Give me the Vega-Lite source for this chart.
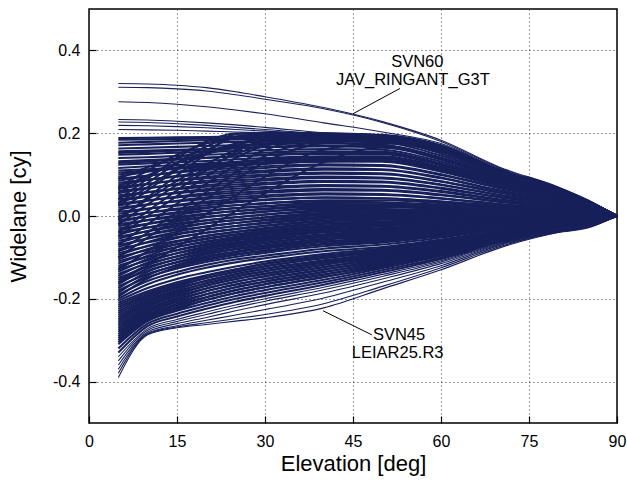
{
"$schema": "https://vega.github.io/schema/vega-lite/v6.json",
"width": 528, "height": 414,
"autosize": {"type": "none"},
"padding": {"left": 89, "top": 9, "right": 10, "bottom": 63},
"config": {
  "view": {"stroke": "#000", "strokeWidth": 1.5},
  "font": "Liberation Sans",
  "axis": {"domain": false, "labelFlush": false, "labelOverlap": false, "labelFont": "Liberation Sans", "titleFont": "Liberation Sans", "labelFontSize": 16, "titleFontSize": 22, "titleFontWeight": "normal", "labelColor": "#000", "titleColor": "#000", "tickColor": "#000", "tickSize": -7, "tickWidth": 1.2, "gridColor": "#333", "gridDash": [1, 3], "gridWidth": 1, "gridOpacity": 1}
},
"datasets": {
"lead": [{"e":53.0,"v":0.308,"e2":45.0,"v2":0.247},{"e":39.9,"v":-0.229,"e2":48.2,"v2":-0.287}],
"ann": [{"t":"SVN60","e":51.5,"v":0.373},{"t":"JAV_RINGANT_G3T","e":42.1,"v":0.329},{"t":"SVN45","e":48.4,"v":-0.287},{"t":"LEIAR25.R3","e":44.8,"v":-0.331}],
"thin": [
{"s":1,"e":5,"v":0.320},{"s":1,"e":10,"v":0.319},{"s":1,"e":15,"v":0.316},{"s":1,"e":20,"v":0.310},{"s":1,"e":25,"v":0.300},{"s":1,"e":30,"v":0.288},{"s":1,"e":40,"v":0.262},{"s":1,"e":50,"v":0.228},{"s":1,"e":60,"v":0.183},{"s":1,"e":70,"v":0.118},{"s":1,"e":80,"v":0.070},{"s":1,"e":85,"v":0.039},{"s":1,"e":90,"v":0},
{"s":2,"e":5,"v":0.311},{"s":2,"e":10,"v":0.310},{"s":2,"e":15,"v":0.307},{"s":2,"e":20,"v":0.302},{"s":2,"e":25,"v":0.293},{"s":2,"e":30,"v":0.282},{"s":2,"e":40,"v":0.259},{"s":2,"e":50,"v":0.226},{"s":2,"e":60,"v":0.180},{"s":2,"e":70,"v":0.116},{"s":2,"e":80,"v":0.069},{"s":2,"e":85,"v":0.038},{"s":2,"e":90,"v":0},
{"s":3,"e":5,"v":0.276},{"s":3,"e":10,"v":0.274},{"s":3,"e":15,"v":0.270},{"s":3,"e":20,"v":0.264},{"s":3,"e":25,"v":0.256},{"s":3,"e":30,"v":0.247},{"s":3,"e":40,"v":0.225},{"s":3,"e":50,"v":0.203},{"s":3,"e":60,"v":0.175},{"s":3,"e":70,"v":0.114},{"s":3,"e":80,"v":0.068},{"s":3,"e":85,"v":0.038},{"s":3,"e":90,"v":0},
{"s":4,"e":5,"v":0.233},{"s":4,"e":10,"v":0.232},{"s":4,"e":15,"v":0.229},{"s":4,"e":20,"v":0.225},{"s":4,"e":25,"v":0.220},{"s":4,"e":30,"v":0.214},{"s":4,"e":40,"v":0.201},{"s":4,"e":50,"v":0.196},{"s":4,"e":60,"v":0.172},{"s":4,"e":70,"v":0.112},{"s":4,"e":80,"v":0.067},{"s":4,"e":85,"v":0.037},{"s":4,"e":90,"v":0},
{"s":5,"e":5,"v":0.227},{"s":5,"e":10,"v":0.226},{"s":5,"e":15,"v":0.223},{"s":5,"e":20,"v":0.219},{"s":5,"e":25,"v":0.214},{"s":5,"e":30,"v":0.209},{"s":5,"e":40,"v":0.199},{"s":5,"e":50,"v":0.194},{"s":5,"e":60,"v":0.170},{"s":5,"e":70,"v":0.111},{"s":5,"e":80,"v":0.066},{"s":5,"e":85,"v":0.037},{"s":5,"e":90,"v":0},
{"s":6,"e":5,"v":0.219},{"s":6,"e":10,"v":0.218},{"s":6,"e":15,"v":0.216},{"s":6,"e":20,"v":0.213},{"s":6,"e":25,"v":0.209},{"s":6,"e":30,"v":0.205},{"s":6,"e":40,"v":0.198},{"s":6,"e":50,"v":0.193},{"s":6,"e":60,"v":0.168},{"s":6,"e":70,"v":0.110},{"s":6,"e":80,"v":0.066},{"s":6,"e":85,"v":0.036},{"s":6,"e":90,"v":0},
{"s":7,"e":5,"v":0.209},{"s":7,"e":10,"v":0.208},{"s":7,"e":15,"v":0.207},{"s":7,"e":20,"v":0.205},{"s":7,"e":25,"v":0.203},{"s":7,"e":30,"v":0.201},{"s":7,"e":40,"v":0.197},{"s":7,"e":50,"v":0.192},{"s":7,"e":60,"v":0.166},{"s":7,"e":70,"v":0.109},{"s":7,"e":80,"v":0.065},{"s":7,"e":85,"v":0.036},{"s":7,"e":90,"v":0},
{"s":62,"e":5,"v":-0.390},{"s":62,"e":10,"v":-0.287},{"s":62,"e":15,"v":-0.270},{"s":62,"e":20,"v":-0.262},{"s":62,"e":25,"v":-0.254},{"s":62,"e":30,"v":-0.246},{"s":62,"e":40,"v":-0.222},{"s":62,"e":50,"v":-0.176},{"s":62,"e":60,"v":-0.130},{"s":62,"e":70,"v":-0.077},{"s":62,"e":80,"v":-0.040},{"s":62,"e":85,"v":-0.029},{"s":62,"e":90,"v":0},
{"s":63,"e":5,"v":-0.380},{"s":63,"e":10,"v":-0.285},{"s":63,"e":15,"v":-0.268},{"s":63,"e":20,"v":-0.258},{"s":63,"e":25,"v":-0.248},{"s":63,"e":30,"v":-0.238},{"s":63,"e":40,"v":-0.212},{"s":63,"e":50,"v":-0.170},{"s":63,"e":60,"v":-0.125},{"s":63,"e":70,"v":-0.074},{"s":63,"e":80,"v":-0.039},{"s":63,"e":85,"v":-0.028},{"s":63,"e":90,"v":0},
{"s":64,"e":5,"v":-0.370},{"s":64,"e":10,"v":-0.283},{"s":64,"e":15,"v":-0.265},{"s":64,"e":20,"v":-0.252},{"s":64,"e":25,"v":-0.239},{"s":64,"e":30,"v":-0.226},{"s":64,"e":40,"v":-0.198},{"s":64,"e":50,"v":-0.160},{"s":64,"e":60,"v":-0.120},{"s":64,"e":70,"v":-0.071},{"s":64,"e":80,"v":-0.038},{"s":64,"e":85,"v":-0.027},{"s":64,"e":90,"v":0},
{"s":65,"e":5,"v":-0.360},{"s":65,"e":10,"v":-0.280},{"s":65,"e":15,"v":-0.260},{"s":65,"e":20,"v":-0.245},{"s":65,"e":25,"v":-0.229},{"s":65,"e":30,"v":-0.214},{"s":65,"e":40,"v":-0.186},{"s":65,"e":50,"v":-0.152},{"s":65,"e":60,"v":-0.115},{"s":65,"e":70,"v":-0.069},{"s":65,"e":80,"v":-0.037},{"s":65,"e":85,"v":-0.026},{"s":65,"e":90,"v":0},
{"s":66,"e":5,"v":-0.350},{"s":66,"e":10,"v":-0.276},{"s":66,"e":15,"v":-0.255},{"s":66,"e":20,"v":-0.238},{"s":66,"e":25,"v":-0.221},{"s":66,"e":30,"v":-0.206},{"s":66,"e":40,"v":-0.178},{"s":66,"e":50,"v":-0.146},{"s":66,"e":60,"v":-0.111},{"s":66,"e":70,"v":-0.067},{"s":66,"e":80,"v":-0.036},{"s":66,"e":85,"v":-0.025},{"s":66,"e":90,"v":0},
{"s":67,"e":5,"v":-0.340},{"s":67,"e":10,"v":-0.272},{"s":67,"e":15,"v":-0.250},{"s":67,"e":20,"v":-0.232},{"s":67,"e":25,"v":-0.215},{"s":67,"e":30,"v":-0.200},{"s":67,"e":40,"v":-0.172},{"s":67,"e":50,"v":-0.141},{"s":67,"e":60,"v":-0.108},{"s":67,"e":70,"v":-0.065},{"s":67,"e":80,"v":-0.035},{"s":67,"e":85,"v":-0.025},{"s":67,"e":90,"v":0}
],
"bulk": [
{"s":68,"e":5,"v":-0.330},{"s":68,"e":10,"v":-0.266},{"s":68,"e":15,"v":-0.243},{"s":68,"e":20,"v":-0.224},{"s":68,"e":25,"v":-0.207},{"s":68,"e":30,"v":-0.193},{"s":68,"e":40,"v":-0.166},{"s":68,"e":50,"v":-0.136},{"s":68,"e":60,"v":-0.104},{"s":68,"e":70,"v":-0.063},{"s":68,"e":80,"v":-0.034},{"s":68,"e":85,"v":-0.024},{"s":68,"e":90,"v":0},
{"s":69,"e":5,"v":-0.320},{"s":69,"e":10,"v":-0.260},{"s":69,"e":15,"v":-0.236},{"s":69,"e":20,"v":-0.217},{"s":69,"e":25,"v":-0.200},{"s":69,"e":30,"v":-0.186},{"s":69,"e":40,"v":-0.160},{"s":69,"e":50,"v":-0.131},{"s":69,"e":60,"v":-0.100},{"s":69,"e":70,"v":-0.061},{"s":69,"e":80,"v":-0.033},{"s":69,"e":85,"v":-0.023},{"s":69,"e":90,"v":0},
{"s":70,"e":5,"v":-0.310},{"s":70,"e":10,"v":-0.254},{"s":70,"e":15,"v":-0.229},{"s":70,"e":20,"v":-0.210},{"s":70,"e":25,"v":-0.193},{"s":70,"e":30,"v":-0.179},{"s":70,"e":40,"v":-0.154},{"s":70,"e":50,"v":-0.126},{"s":70,"e":60,"v":-0.096},{"s":70,"e":70,"v":-0.059},{"s":70,"e":80,"v":-0.032},{"s":70,"e":85,"v":-0.022},{"s":70,"e":90,"v":0},
{"s":71,"e":5,"v":-0.300},{"s":71,"e":10,"v":-0.248},{"s":71,"e":15,"v":-0.222},{"s":71,"e":20,"v":-0.203},{"s":71,"e":25,"v":-0.186},{"s":71,"e":30,"v":-0.172},{"s":71,"e":40,"v":-0.148},{"s":71,"e":50,"v":-0.121},{"s":71,"e":60,"v":-0.092},{"s":71,"e":70,"v":-0.057},{"s":71,"e":80,"v":-0.031},{"s":71,"e":85,"v":-0.021},{"s":71,"e":90,"v":0},
{"s":72,"e":5,"v":-0.290},{"s":72,"e":10,"v":-0.241},{"s":72,"e":15,"v":-0.215},{"s":72,"e":20,"v":-0.196},{"s":72,"e":25,"v":-0.179},{"s":72,"e":30,"v":-0.165},{"s":72,"e":40,"v":-0.142},{"s":72,"e":50,"v":-0.116},{"s":72,"e":60,"v":-0.088},{"s":72,"e":70,"v":-0.054},{"s":72,"e":80,"v":-0.030},{"s":72,"e":85,"v":-0.020},{"s":72,"e":90,"v":0},
{"s":73,"e":5,"v":-0.280},{"s":73,"e":10,"v":-0.234},{"s":73,"e":15,"v":-0.208},{"s":73,"e":20,"v":-0.189},{"s":73,"e":25,"v":-0.172},{"s":73,"e":30,"v":-0.159},{"s":73,"e":40,"v":-0.136},{"s":73,"e":50,"v":-0.111},{"s":73,"e":60,"v":-0.084},{"s":73,"e":70,"v":-0.052},{"s":73,"e":80,"v":-0.029},{"s":73,"e":85,"v":-0.019},{"s":73,"e":90,"v":0},
{"s":74,"e":5,"v":-0.270},{"s":74,"e":10,"v":-0.227},{"s":74,"e":15,"v":-0.201},{"s":74,"e":20,"v":-0.182},{"s":74,"e":25,"v":-0.166},{"s":74,"e":30,"v":-0.152},{"s":74,"e":40,"v":-0.130},{"s":74,"e":50,"v":-0.106},{"s":74,"e":60,"v":-0.080},{"s":74,"e":70,"v":-0.050},{"s":74,"e":80,"v":-0.028},{"s":74,"e":85,"v":-0.018},{"s":74,"e":90,"v":0},
{"s":75,"e":5,"v":-0.260},{"s":75,"e":10,"v":-0.220},{"s":75,"e":15,"v":-0.194},{"s":75,"e":20,"v":-0.175},{"s":75,"e":25,"v":-0.159},{"s":75,"e":30,"v":-0.146},{"s":75,"e":40,"v":-0.124},{"s":75,"e":50,"v":-0.101},{"s":75,"e":60,"v":-0.077},{"s":75,"e":70,"v":-0.048},{"s":75,"e":80,"v":-0.027},{"s":75,"e":85,"v":-0.017},{"s":75,"e":90,"v":0},
{"s":76,"e":5,"v":-0.250},{"s":76,"e":10,"v":-0.212},{"s":76,"e":15,"v":-0.187},{"s":76,"e":20,"v":-0.169},{"s":76,"e":25,"v":-0.153},{"s":76,"e":30,"v":-0.140},{"s":76,"e":40,"v":-0.118},{"s":76,"e":50,"v":-0.097},{"s":76,"e":60,"v":-0.073},{"s":76,"e":70,"v":-0.046},{"s":76,"e":80,"v":-0.026},{"s":76,"e":85,"v":-0.016},{"s":76,"e":90,"v":0},
{"s":77,"e":5,"v":-0.240},{"s":77,"e":10,"v":-0.205},{"s":77,"e":15,"v":-0.181},{"s":77,"e":20,"v":-0.163},{"s":77,"e":25,"v":-0.147},{"s":77,"e":30,"v":-0.134},{"s":77,"e":40,"v":-0.113},{"s":77,"e":50,"v":-0.093},{"s":77,"e":60,"v":-0.070},{"s":77,"e":70,"v":-0.044},{"s":77,"e":80,"v":-0.025},{"s":77,"e":85,"v":-0.016},{"s":77,"e":90,"v":0},
{"s":78,"e":5,"v":-0.230},{"s":78,"e":10,"v":-0.198},{"s":78,"e":15,"v":-0.174},{"s":78,"e":20,"v":-0.157},{"s":78,"e":25,"v":-0.141},{"s":78,"e":30,"v":-0.128},{"s":78,"e":40,"v":-0.108},{"s":78,"e":50,"v":-0.089},{"s":78,"e":60,"v":-0.067},{"s":78,"e":70,"v":-0.042},{"s":78,"e":80,"v":-0.024},{"s":78,"e":85,"v":-0.015},{"s":78,"e":90,"v":0},
{"s":79,"e":5,"v":-0.220},{"s":79,"e":10,"v":-0.190},{"s":79,"e":15,"v":-0.167},{"s":79,"e":20,"v":-0.150},{"s":79,"e":25,"v":-0.135},{"s":79,"e":30,"v":-0.122},{"s":79,"e":40,"v":-0.102},{"s":79,"e":50,"v":-0.085},{"s":79,"e":60,"v":-0.064},{"s":79,"e":70,"v":-0.040},{"s":79,"e":80,"v":-0.023},{"s":79,"e":85,"v":-0.014},{"s":79,"e":90,"v":0},
{"s":80,"e":5,"v":-0.210},{"s":80,"e":10,"v":-0.182},{"s":80,"e":15,"v":-0.160},{"s":80,"e":20,"v":-0.143},{"s":80,"e":25,"v":-0.129},{"s":80,"e":30,"v":-0.116},{"s":80,"e":40,"v":-0.097},{"s":80,"e":50,"v":-0.081},{"s":80,"e":60,"v":-0.061},{"s":80,"e":70,"v":-0.038},{"s":80,"e":80,"v":-0.022},{"s":80,"e":85,"v":-0.014},{"s":80,"e":90,"v":0},
{"s":122,"e":5,"v":-0.215},{"s":122,"e":10,"v":-0.186},{"s":122,"e":15,"v":-0.164},{"s":122,"e":20,"v":-0.145},{"s":122,"e":25,"v":-0.129},{"s":122,"e":30,"v":-0.115},{"s":122,"e":40,"v":-0.096},{"s":122,"e":50,"v":-0.083},{"s":122,"e":60,"v":-0.063},{"s":122,"e":70,"v":-0.039},{"s":122,"e":80,"v":-0.023},{"s":122,"e":85,"v":-0.014},{"s":122,"e":90,"v":0},
{"s":123,"e":5,"v":-0.225},{"s":123,"e":10,"v":-0.194},{"s":123,"e":15,"v":-0.171},{"s":123,"e":20,"v":-0.150},{"s":123,"e":25,"v":-0.134},{"s":123,"e":30,"v":-0.121},{"s":123,"e":40,"v":-0.101},{"s":123,"e":50,"v":-0.087},{"s":123,"e":60,"v":-0.066},{"s":123,"e":70,"v":-0.041},{"s":123,"e":80,"v":-0.024},{"s":123,"e":85,"v":-0.015},{"s":123,"e":90,"v":0},
{"s":124,"e":5,"v":-0.235},{"s":124,"e":10,"v":-0.202},{"s":124,"e":15,"v":-0.178},{"s":124,"e":20,"v":-0.156},{"s":124,"e":25,"v":-0.140},{"s":124,"e":30,"v":-0.127},{"s":124,"e":40,"v":-0.107},{"s":124,"e":50,"v":-0.091},{"s":124,"e":60,"v":-0.069},{"s":124,"e":70,"v":-0.043},{"s":124,"e":80,"v":-0.025},{"s":124,"e":85,"v":-0.016},{"s":124,"e":90,"v":0},
{"s":125,"e":5,"v":-0.245},{"s":125,"e":10,"v":-0.209},{"s":125,"e":15,"v":-0.184},{"s":125,"e":20,"v":-0.162},{"s":125,"e":25,"v":-0.146},{"s":125,"e":30,"v":-0.133},{"s":125,"e":40,"v":-0.112},{"s":125,"e":50,"v":-0.095},{"s":125,"e":60,"v":-0.072},{"s":125,"e":70,"v":-0.045},{"s":125,"e":80,"v":-0.026},{"s":125,"e":85,"v":-0.016},{"s":125,"e":90,"v":0},
{"s":126,"e":5,"v":-0.255},{"s":126,"e":10,"v":-0.216},{"s":126,"e":15,"v":-0.191},{"s":126,"e":20,"v":-0.168},{"s":126,"e":25,"v":-0.152},{"s":126,"e":30,"v":-0.139},{"s":126,"e":40,"v":-0.117},{"s":126,"e":50,"v":-0.099},{"s":126,"e":60,"v":-0.075},{"s":126,"e":70,"v":-0.047},{"s":126,"e":80,"v":-0.027},{"s":126,"e":85,"v":-0.017},{"s":126,"e":90,"v":0},
{"s":127,"e":5,"v":-0.265},{"s":127,"e":10,"v":-0.224},{"s":127,"e":15,"v":-0.198},{"s":127,"e":20,"v":-0.175},{"s":127,"e":25,"v":-0.159},{"s":127,"e":30,"v":-0.145},{"s":127,"e":40,"v":-0.123},{"s":127,"e":50,"v":-0.104},{"s":127,"e":60,"v":-0.079},{"s":127,"e":70,"v":-0.049},{"s":127,"e":80,"v":-0.028},{"s":127,"e":85,"v":-0.018},{"s":127,"e":90,"v":0},
{"s":128,"e":5,"v":-0.275},{"s":128,"e":10,"v":-0.231},{"s":128,"e":15,"v":-0.205},{"s":128,"e":20,"v":-0.182},{"s":128,"e":25,"v":-0.165},{"s":128,"e":30,"v":-0.152},{"s":128,"e":40,"v":-0.129},{"s":128,"e":50,"v":-0.109},{"s":128,"e":60,"v":-0.082},{"s":128,"e":70,"v":-0.051},{"s":128,"e":80,"v":-0.029},{"s":128,"e":85,"v":-0.019},{"s":128,"e":90,"v":0},
{"s":129,"e":5,"v":-0.285},{"s":129,"e":10,"v":-0.238},{"s":129,"e":15,"v":-0.212},{"s":129,"e":20,"v":-0.189},{"s":129,"e":25,"v":-0.172},{"s":129,"e":30,"v":-0.158},{"s":129,"e":40,"v":-0.135},{"s":129,"e":50,"v":-0.114},{"s":129,"e":60,"v":-0.086},{"s":129,"e":70,"v":-0.053},{"s":129,"e":80,"v":-0.030},{"s":129,"e":85,"v":-0.020},{"s":129,"e":90,"v":0},
{"s":130,"e":5,"v":-0.295},{"s":130,"e":10,"v":-0.245},{"s":130,"e":15,"v":-0.219},{"s":130,"e":20,"v":-0.196},{"s":130,"e":25,"v":-0.179},{"s":130,"e":30,"v":-0.165},{"s":130,"e":40,"v":-0.141},{"s":130,"e":50,"v":-0.119},{"s":130,"e":60,"v":-0.090},{"s":130,"e":70,"v":-0.056},{"s":130,"e":80,"v":-0.031},{"s":130,"e":85,"v":-0.021},{"s":130,"e":90,"v":0},
{"s":131,"e":5,"v":-0.305},{"s":131,"e":10,"v":-0.251},{"s":131,"e":15,"v":-0.226},{"s":131,"e":20,"v":-0.203},{"s":131,"e":25,"v":-0.186},{"s":131,"e":30,"v":-0.172},{"s":131,"e":40,"v":-0.147},{"s":131,"e":50,"v":-0.124},{"s":131,"e":60,"v":-0.094},{"s":131,"e":70,"v":-0.058},{"s":131,"e":80,"v":-0.032},{"s":131,"e":85,"v":-0.022},{"s":131,"e":90,"v":0},
{"s":8,"e":5,"v":0.188},{"s":8,"e":10,"v":0.189},{"s":8,"e":15,"v":0.190},{"s":8,"e":20,"v":0.191},{"s":8,"e":25,"v":0.192},{"s":8,"e":30,"v":0.193},{"s":8,"e":40,"v":0.194},{"s":8,"e":50,"v":0.190},{"s":8,"e":60,"v":0.163},{"s":8,"e":70,"v":0.107},{"s":8,"e":80,"v":0.064},{"s":8,"e":85,"v":0.035},{"s":8,"e":90,"v":0},
{"s":9,"e":5,"v":0.184},{"s":9,"e":10,"v":0.185},{"s":9,"e":15,"v":0.186},{"s":9,"e":20,"v":0.187},{"s":9,"e":25,"v":0.188},{"s":9,"e":30,"v":0.189},{"s":9,"e":40,"v":0.190},{"s":9,"e":50,"v":0.186},{"s":9,"e":60,"v":0.160},{"s":9,"e":70,"v":0.106},{"s":9,"e":80,"v":0.063},{"s":9,"e":85,"v":0.035},{"s":9,"e":90,"v":0},
{"s":10,"e":5,"v":0.171},{"s":10,"e":10,"v":0.173},{"s":10,"e":15,"v":0.175},{"s":10,"e":20,"v":0.177},{"s":10,"e":25,"v":0.179},{"s":10,"e":30,"v":0.180},{"s":10,"e":40,"v":0.181},{"s":10,"e":50,"v":0.178},{"s":10,"e":60,"v":0.146},{"s":10,"e":70,"v":0.098},{"s":10,"e":80,"v":0.059},{"s":10,"e":85,"v":0.032},{"s":10,"e":90,"v":0},
{"s":11,"e":5,"v":0.163},{"s":11,"e":10,"v":0.165},{"s":11,"e":15,"v":0.167},{"s":11,"e":20,"v":0.169},{"s":11,"e":25,"v":0.171},{"s":11,"e":30,"v":0.173},{"s":11,"e":40,"v":0.175},{"s":11,"e":50,"v":0.172},{"s":11,"e":60,"v":0.141},{"s":11,"e":70,"v":0.095},{"s":11,"e":80,"v":0.057},{"s":11,"e":85,"v":0.031},{"s":11,"e":90,"v":0},
{"s":12,"e":5,"v":0.156},{"s":12,"e":10,"v":0.158},{"s":12,"e":15,"v":0.160},{"s":12,"e":20,"v":0.162},{"s":12,"e":25,"v":0.164},{"s":12,"e":30,"v":0.166},{"s":12,"e":40,"v":0.168},{"s":12,"e":50,"v":0.166},{"s":12,"e":60,"v":0.136},{"s":12,"e":70,"v":0.091},{"s":12,"e":80,"v":0.055},{"s":12,"e":85,"v":0.030},{"s":12,"e":90,"v":0},
{"s":13,"e":5,"v":0.148},{"s":13,"e":10,"v":0.150},{"s":13,"e":15,"v":0.153},{"s":13,"e":20,"v":0.155},{"s":13,"e":25,"v":0.157},{"s":13,"e":30,"v":0.159},{"s":13,"e":40,"v":0.162},{"s":13,"e":50,"v":0.160},{"s":13,"e":60,"v":0.131},{"s":13,"e":70,"v":0.088},{"s":13,"e":80,"v":0.053},{"s":13,"e":85,"v":0.029},{"s":13,"e":90,"v":0},
{"s":14,"e":5,"v":0.140},{"s":14,"e":10,"v":0.142},{"s":14,"e":15,"v":0.145},{"s":14,"e":20,"v":0.148},{"s":14,"e":25,"v":0.150},{"s":14,"e":30,"v":0.153},{"s":14,"e":40,"v":0.156},{"s":14,"e":50,"v":0.155},{"s":14,"e":60,"v":0.127},{"s":14,"e":70,"v":0.085},{"s":14,"e":80,"v":0.051},{"s":14,"e":85,"v":0.028},{"s":14,"e":90,"v":0},
{"s":15,"e":5,"v":0.132},{"s":15,"e":10,"v":0.135},{"s":15,"e":15,"v":0.138},{"s":15,"e":20,"v":0.141},{"s":15,"e":25,"v":0.144},{"s":15,"e":30,"v":0.147},{"s":15,"e":40,"v":0.150},{"s":15,"e":50,"v":0.149},{"s":15,"e":60,"v":0.122},{"s":15,"e":70,"v":0.082},{"s":15,"e":80,"v":0.049},{"s":15,"e":85,"v":0.027},{"s":15,"e":90,"v":0},
{"s":16,"e":5,"v":0.124},{"s":16,"e":10,"v":0.127},{"s":16,"e":15,"v":0.130},{"s":16,"e":20,"v":0.133},{"s":16,"e":25,"v":0.137},{"s":16,"e":30,"v":0.140},{"s":16,"e":40,"v":0.144},{"s":16,"e":50,"v":0.144},{"s":16,"e":60,"v":0.118},{"s":16,"e":70,"v":0.079},{"s":16,"e":80,"v":0.048},{"s":16,"e":85,"v":0.026},{"s":16,"e":90,"v":0},
{"s":17,"e":5,"v":0.116},{"s":17,"e":10,"v":0.120},{"s":17,"e":15,"v":0.123},{"s":17,"e":20,"v":0.127},{"s":17,"e":25,"v":0.130},{"s":17,"e":30,"v":0.134},{"s":17,"e":40,"v":0.138},{"s":17,"e":50,"v":0.138},{"s":17,"e":60,"v":0.113},{"s":17,"e":70,"v":0.076},{"s":17,"e":80,"v":0.046},{"s":17,"e":85,"v":0.025},{"s":17,"e":90,"v":0},
{"s":18,"e":5,"v":0.110},{"s":18,"e":10,"v":0.113},{"s":18,"e":15,"v":0.117},{"s":18,"e":20,"v":0.120},{"s":18,"e":25,"v":0.124},{"s":18,"e":30,"v":0.128},{"s":18,"e":40,"v":0.132},{"s":18,"e":50,"v":0.133},{"s":18,"e":60,"v":0.109},{"s":18,"e":70,"v":0.073},{"s":18,"e":80,"v":0.044},{"s":18,"e":85,"v":0.024},{"s":18,"e":90,"v":0},
{"s":19,"e":5,"v":-0.010},{"s":19,"e":10,"v":0.045},{"s":19,"e":15,"v":0.098},{"s":19,"e":20,"v":0.150},{"s":19,"e":25,"v":0.198},{"s":19,"e":30,"v":0.201},{"s":19,"e":40,"v":0.200},{"s":19,"e":50,"v":0.196},{"s":19,"e":60,"v":0.170},{"s":19,"e":70,"v":0.111},{"s":19,"e":80,"v":0.066},{"s":19,"e":85,"v":0.037},{"s":19,"e":90,"v":0},
{"s":20,"e":5,"v":0.040},{"s":20,"e":10,"v":0.090},{"s":20,"e":15,"v":0.140},{"s":20,"e":20,"v":0.180},{"s":20,"e":25,"v":0.199},{"s":20,"e":30,"v":0.200},{"s":20,"e":40,"v":0.199},{"s":20,"e":50,"v":0.194},{"s":20,"e":60,"v":0.168},{"s":20,"e":70,"v":0.110},{"s":20,"e":80,"v":0.066},{"s":20,"e":85,"v":0.036},{"s":20,"e":90,"v":0},
{"s":21,"e":5,"v":0.010},{"s":21,"e":10,"v":0.062},{"s":21,"e":15,"v":0.112},{"s":21,"e":20,"v":0.158},{"s":21,"e":25,"v":0.190},{"s":21,"e":30,"v":0.196},{"s":21,"e":40,"v":0.197},{"s":21,"e":50,"v":0.192},{"s":21,"e":60,"v":0.166},{"s":21,"e":70,"v":0.109},{"s":21,"e":80,"v":0.065},{"s":21,"e":85,"v":0.036},{"s":21,"e":90,"v":0},
{"s":22,"e":5,"v":-0.040},{"s":22,"e":10,"v":0.012},{"s":22,"e":15,"v":0.062},{"s":22,"e":20,"v":0.110},{"s":22,"e":25,"v":0.155},{"s":22,"e":30,"v":0.182},{"s":22,"e":40,"v":0.192},{"s":22,"e":50,"v":0.189},{"s":22,"e":60,"v":0.164},{"s":22,"e":70,"v":0.108},{"s":22,"e":80,"v":0.065},{"s":22,"e":85,"v":0.036},{"s":22,"e":90,"v":0},
{"s":23,"e":5,"v":0.070},{"s":23,"e":10,"v":0.110},{"s":23,"e":15,"v":0.148},{"s":23,"e":20,"v":0.175},{"s":23,"e":25,"v":0.190},{"s":23,"e":30,"v":0.194},{"s":23,"e":40,"v":0.194},{"s":23,"e":50,"v":0.190},{"s":23,"e":60,"v":0.164},{"s":23,"e":70,"v":0.108},{"s":23,"e":80,"v":0.064},{"s":23,"e":85,"v":0.035},{"s":23,"e":90,"v":0},
{"s":24,"e":5,"v":-0.070},{"s":24,"e":10,"v":-0.020},{"s":24,"e":15,"v":0.030},{"s":24,"e":20,"v":0.078},{"s":24,"e":25,"v":0.122},{"s":24,"e":30,"v":0.160},{"s":24,"e":40,"v":0.186},{"s":24,"e":50,"v":0.186},{"s":24,"e":60,"v":0.162},{"s":24,"e":70,"v":0.107},{"s":24,"e":80,"v":0.064},{"s":24,"e":85,"v":0.035},{"s":24,"e":90,"v":0},
{"s":25,"e":5,"v":0.025},{"s":25,"e":10,"v":0.070},{"s":25,"e":15,"v":0.115},{"s":25,"e":20,"v":0.150},{"s":25,"e":25,"v":0.175},{"s":25,"e":30,"v":0.186},{"s":25,"e":40,"v":0.190},{"s":25,"e":50,"v":0.187},{"s":25,"e":60,"v":0.162},{"s":25,"e":70,"v":0.107},{"s":25,"e":80,"v":0.064},{"s":25,"e":85,"v":0.035},{"s":25,"e":90,"v":0},
{"s":26,"e":5,"v":-0.100},{"s":26,"e":10,"v":-0.052},{"s":26,"e":15,"v":-0.005},{"s":26,"e":20,"v":0.042},{"s":26,"e":25,"v":0.088},{"s":26,"e":30,"v":0.130},{"s":26,"e":40,"v":0.176},{"s":26,"e":50,"v":0.182},{"s":26,"e":60,"v":0.160},{"s":26,"e":70,"v":0.106},{"s":26,"e":80,"v":0.063},{"s":26,"e":85,"v":0.035},{"s":26,"e":90,"v":0},
{"s":27,"e":5,"v":0.055},{"s":27,"e":10,"v":0.095},{"s":27,"e":15,"v":0.128},{"s":27,"e":20,"v":0.155},{"s":27,"e":25,"v":0.172},{"s":27,"e":30,"v":0.182},{"s":27,"e":40,"v":0.187},{"s":27,"e":50,"v":0.184},{"s":27,"e":60,"v":0.160},{"s":27,"e":70,"v":0.106},{"s":27,"e":80,"v":0.063},{"s":27,"e":85,"v":0.035},{"s":27,"e":90,"v":0},
{"s":28,"e":5,"v":-0.020},{"s":28,"e":10,"v":0.028},{"s":28,"e":15,"v":0.075},{"s":28,"e":20,"v":0.115},{"s":28,"e":25,"v":0.150},{"s":28,"e":30,"v":0.172},{"s":28,"e":40,"v":0.183},{"s":28,"e":50,"v":0.181},{"s":28,"e":60,"v":0.158},{"s":28,"e":70,"v":0.105},{"s":28,"e":80,"v":0.063},{"s":28,"e":85,"v":0.034},{"s":28,"e":90,"v":0},
{"s":29,"e":5,"v":-0.130},{"s":29,"e":10,"v":-0.085},{"s":29,"e":15,"v":-0.040},{"s":29,"e":20,"v":0.005},{"s":29,"e":25,"v":0.050},{"s":29,"e":30,"v":0.095},{"s":29,"e":40,"v":0.160},{"s":29,"e":50,"v":0.176},{"s":29,"e":60,"v":0.156},{"s":29,"e":70,"v":0.104},{"s":29,"e":80,"v":0.062},{"s":29,"e":85,"v":0.034},{"s":29,"e":90,"v":0},
{"s":30,"e":5,"v":0.090},{"s":30,"e":10,"v":0.118},{"s":30,"e":15,"v":0.140},{"s":30,"e":20,"v":0.158},{"s":30,"e":25,"v":0.168},{"s":30,"e":30,"v":0.175},{"s":30,"e":40,"v":0.180},{"s":30,"e":50,"v":0.178},{"s":30,"e":60,"v":0.156},{"s":30,"e":70,"v":0.104},{"s":30,"e":80,"v":0.062},{"s":30,"e":85,"v":0.034},{"s":30,"e":90,"v":0},
{"s":31,"e":5,"v":0.100},{"s":31,"e":10,"v":0.108},{"s":31,"e":15,"v":0.115},{"s":31,"e":20,"v":0.121},{"s":31,"e":25,"v":0.126},{"s":31,"e":30,"v":0.130},{"s":31,"e":40,"v":0.135},{"s":31,"e":50,"v":0.133},{"s":31,"e":60,"v":0.109},{"s":31,"e":70,"v":0.073},{"s":31,"e":80,"v":0.044},{"s":31,"e":85,"v":0.024},{"s":31,"e":90,"v":0},
{"s":32,"e":5,"v":0.090},{"s":32,"e":10,"v":0.098},{"s":32,"e":15,"v":0.105},{"s":32,"e":20,"v":0.111},{"s":32,"e":25,"v":0.116},{"s":32,"e":30,"v":0.120},{"s":32,"e":40,"v":0.125},{"s":32,"e":50,"v":0.123},{"s":32,"e":60,"v":0.101},{"s":32,"e":70,"v":0.068},{"s":32,"e":80,"v":0.041},{"s":32,"e":85,"v":0.022},{"s":32,"e":90,"v":0},
{"s":33,"e":5,"v":0.080},{"s":33,"e":10,"v":0.088},{"s":33,"e":15,"v":0.095},{"s":33,"e":20,"v":0.101},{"s":33,"e":25,"v":0.106},{"s":33,"e":30,"v":0.110},{"s":33,"e":40,"v":0.115},{"s":33,"e":50,"v":0.113},{"s":33,"e":60,"v":0.093},{"s":33,"e":70,"v":0.062},{"s":33,"e":80,"v":0.037},{"s":33,"e":85,"v":0.020},{"s":33,"e":90,"v":0},
{"s":34,"e":5,"v":0.070},{"s":34,"e":10,"v":0.078},{"s":34,"e":15,"v":0.085},{"s":34,"e":20,"v":0.091},{"s":34,"e":25,"v":0.096},{"s":34,"e":30,"v":0.100},{"s":34,"e":40,"v":0.105},{"s":34,"e":50,"v":0.103},{"s":34,"e":60,"v":0.084},{"s":34,"e":70,"v":0.057},{"s":34,"e":80,"v":0.034},{"s":34,"e":85,"v":0.019},{"s":34,"e":90,"v":0},
{"s":35,"e":5,"v":0.060},{"s":35,"e":10,"v":0.068},{"s":35,"e":15,"v":0.075},{"s":35,"e":20,"v":0.081},{"s":35,"e":25,"v":0.086},{"s":35,"e":30,"v":0.090},{"s":35,"e":40,"v":0.095},{"s":35,"e":50,"v":0.093},{"s":35,"e":60,"v":0.076},{"s":35,"e":70,"v":0.051},{"s":35,"e":80,"v":0.031},{"s":35,"e":85,"v":0.017},{"s":35,"e":90,"v":0},
{"s":36,"e":5,"v":0.050},{"s":36,"e":10,"v":0.058},{"s":36,"e":15,"v":0.065},{"s":36,"e":20,"v":0.071},{"s":36,"e":25,"v":0.076},{"s":36,"e":30,"v":0.080},{"s":36,"e":40,"v":0.085},{"s":36,"e":50,"v":0.083},{"s":36,"e":60,"v":0.068},{"s":36,"e":70,"v":0.046},{"s":36,"e":80,"v":0.027},{"s":36,"e":85,"v":0.015},{"s":36,"e":90,"v":0},
{"s":37,"e":5,"v":0.040},{"s":37,"e":10,"v":0.048},{"s":37,"e":15,"v":0.055},{"s":37,"e":20,"v":0.061},{"s":37,"e":25,"v":0.066},{"s":37,"e":30,"v":0.070},{"s":37,"e":40,"v":0.075},{"s":37,"e":50,"v":0.073},{"s":37,"e":60,"v":0.060},{"s":37,"e":70,"v":0.040},{"s":37,"e":80,"v":0.024},{"s":37,"e":85,"v":0.013},{"s":37,"e":90,"v":0},
{"s":38,"e":5,"v":0.030},{"s":38,"e":10,"v":0.038},{"s":38,"e":15,"v":0.045},{"s":38,"e":20,"v":0.051},{"s":38,"e":25,"v":0.056},{"s":38,"e":30,"v":0.060},{"s":38,"e":40,"v":0.065},{"s":38,"e":50,"v":0.063},{"s":38,"e":60,"v":0.052},{"s":38,"e":70,"v":0.035},{"s":38,"e":80,"v":0.021},{"s":38,"e":85,"v":0.011},{"s":38,"e":90,"v":0},
{"s":39,"e":5,"v":0.020},{"s":39,"e":10,"v":0.028},{"s":39,"e":15,"v":0.035},{"s":39,"e":20,"v":0.041},{"s":39,"e":25,"v":0.046},{"s":39,"e":30,"v":0.050},{"s":39,"e":40,"v":0.055},{"s":39,"e":50,"v":0.053},{"s":39,"e":60,"v":0.043},{"s":39,"e":70,"v":0.029},{"s":39,"e":80,"v":0.017},{"s":39,"e":85,"v":0.010},{"s":39,"e":90,"v":0},
{"s":40,"e":5,"v":0.010},{"s":40,"e":10,"v":0.018},{"s":40,"e":15,"v":0.025},{"s":40,"e":20,"v":0.031},{"s":40,"e":25,"v":0.036},{"s":40,"e":30,"v":0.040},{"s":40,"e":40,"v":0.045},{"s":40,"e":50,"v":0.043},{"s":40,"e":60,"v":0.035},{"s":40,"e":70,"v":0.024},{"s":40,"e":80,"v":0.014},{"s":40,"e":85,"v":0.008},{"s":40,"e":90,"v":0},
{"s":41,"e":5,"v":0.000},{"s":41,"e":10,"v":0.008},{"s":41,"e":15,"v":0.015},{"s":41,"e":20,"v":0.021},{"s":41,"e":25,"v":0.026},{"s":41,"e":30,"v":0.030},{"s":41,"e":40,"v":0.035},{"s":41,"e":50,"v":0.033},{"s":41,"e":60,"v":0.027},{"s":41,"e":70,"v":0.018},{"s":41,"e":80,"v":0.011},{"s":41,"e":85,"v":0.006},{"s":41,"e":90,"v":0},
{"s":42,"e":5,"v":-0.010},{"s":42,"e":10,"v":-0.001},{"s":42,"e":15,"v":0.007},{"s":42,"e":20,"v":0.013},{"s":42,"e":25,"v":0.019},{"s":42,"e":30,"v":0.023},{"s":42,"e":40,"v":0.029},{"s":42,"e":50,"v":0.028},{"s":42,"e":60,"v":0.023},{"s":42,"e":70,"v":0.015},{"s":42,"e":80,"v":0.009},{"s":42,"e":85,"v":0.005},{"s":42,"e":90,"v":0},
{"s":43,"e":5,"v":-0.020},{"s":43,"e":10,"v":-0.010},{"s":43,"e":15,"v":-0.002},{"s":43,"e":20,"v":0.006},{"s":43,"e":25,"v":0.012},{"s":43,"e":30,"v":0.016},{"s":43,"e":40,"v":0.023},{"s":43,"e":50,"v":0.023},{"s":43,"e":60,"v":0.019},{"s":43,"e":70,"v":0.013},{"s":43,"e":80,"v":0.008},{"s":43,"e":85,"v":0.004},{"s":43,"e":90,"v":0},
{"s":44,"e":5,"v":-0.030},{"s":44,"e":10,"v":-0.019},{"s":44,"e":15,"v":-0.010},{"s":44,"e":20,"v":-0.002},{"s":44,"e":25,"v":0.004},{"s":44,"e":30,"v":0.010},{"s":44,"e":40,"v":0.017},{"s":44,"e":50,"v":0.017},{"s":44,"e":60,"v":0.014},{"s":44,"e":70,"v":0.009},{"s":44,"e":80,"v":0.006},{"s":44,"e":85,"v":0.003},{"s":44,"e":90,"v":0},
{"s":45,"e":5,"v":-0.040},{"s":45,"e":10,"v":-0.028},{"s":45,"e":15,"v":-0.018},{"s":45,"e":20,"v":-0.010},{"s":45,"e":25,"v":-0.003},{"s":45,"e":30,"v":0.003},{"s":45,"e":40,"v":0.011},{"s":45,"e":50,"v":0.012},{"s":45,"e":60,"v":0.010},{"s":45,"e":70,"v":0.007},{"s":45,"e":80,"v":0.004},{"s":45,"e":85,"v":0.002},{"s":45,"e":90,"v":0},
{"s":46,"e":5,"v":-0.050},{"s":46,"e":10,"v":-0.037},{"s":46,"e":15,"v":-0.026},{"s":46,"e":20,"v":-0.017},{"s":46,"e":25,"v":-0.010},{"s":46,"e":30,"v":-0.004},{"s":46,"e":40,"v":0.005},{"s":46,"e":50,"v":0.007},{"s":46,"e":60,"v":0.006},{"s":46,"e":70,"v":0.004},{"s":46,"e":80,"v":0.002},{"s":46,"e":85,"v":0.001},{"s":46,"e":90,"v":0},
{"s":47,"e":5,"v":-0.060},{"s":47,"e":10,"v":-0.046},{"s":47,"e":15,"v":-0.034},{"s":47,"e":20,"v":-0.025},{"s":47,"e":25,"v":-0.017},{"s":47,"e":30,"v":-0.011},{"s":47,"e":40,"v":-0.002},{"s":47,"e":50,"v":0.001},{"s":47,"e":60,"v":0.001},{"s":47,"e":70,"v":0.001},{"s":47,"e":80,"v":0.000},{"s":47,"e":85,"v":0.000},{"s":47,"e":90,"v":0},
{"s":48,"e":5,"v":-0.070},{"s":48,"e":10,"v":-0.055},{"s":48,"e":15,"v":-0.043},{"s":48,"e":20,"v":-0.033},{"s":48,"e":25,"v":-0.024},{"s":48,"e":30,"v":-0.018},{"s":48,"e":40,"v":-0.007},{"s":48,"e":50,"v":-0.004},{"s":48,"e":60,"v":-0.003},{"s":48,"e":70,"v":-0.002},{"s":48,"e":80,"v":-0.001},{"s":48,"e":85,"v":-0.001},{"s":48,"e":90,"v":0},
{"s":49,"e":5,"v":-0.080},{"s":49,"e":10,"v":-0.064},{"s":49,"e":15,"v":-0.051},{"s":49,"e":20,"v":-0.041},{"s":49,"e":25,"v":-0.032},{"s":49,"e":30,"v":-0.024},{"s":49,"e":40,"v":-0.013},{"s":49,"e":50,"v":-0.009},{"s":49,"e":60,"v":-0.007},{"s":49,"e":70,"v":-0.004},{"s":49,"e":80,"v":-0.002},{"s":49,"e":85,"v":-0.001},{"s":49,"e":90,"v":0},
{"s":50,"e":5,"v":-0.090},{"s":50,"e":10,"v":-0.073},{"s":50,"e":15,"v":-0.060},{"s":50,"e":20,"v":-0.048},{"s":50,"e":25,"v":-0.039},{"s":50,"e":30,"v":-0.031},{"s":50,"e":40,"v":-0.019},{"s":50,"e":50,"v":-0.015},{"s":50,"e":60,"v":-0.011},{"s":50,"e":70,"v":-0.007},{"s":50,"e":80,"v":-0.004},{"s":50,"e":85,"v":-0.002},{"s":50,"e":90,"v":0},
{"s":51,"e":5,"v":-0.100},{"s":51,"e":10,"v":-0.082},{"s":51,"e":15,"v":-0.068},{"s":51,"e":20,"v":-0.056},{"s":51,"e":25,"v":-0.046},{"s":51,"e":30,"v":-0.038},{"s":51,"e":40,"v":-0.025},{"s":51,"e":50,"v":-0.020},{"s":51,"e":60,"v":-0.015},{"s":51,"e":70,"v":-0.009},{"s":51,"e":80,"v":-0.005},{"s":51,"e":85,"v":-0.003},{"s":51,"e":90,"v":0},
{"s":52,"e":5,"v":-0.110},{"s":52,"e":10,"v":-0.090},{"s":52,"e":15,"v":-0.075},{"s":52,"e":20,"v":-0.063},{"s":52,"e":25,"v":-0.053},{"s":52,"e":30,"v":-0.044},{"s":52,"e":40,"v":-0.031},{"s":52,"e":50,"v":-0.025},{"s":52,"e":60,"v":-0.019},{"s":52,"e":70,"v":-0.012},{"s":52,"e":80,"v":-0.006},{"s":52,"e":85,"v":-0.004},{"s":52,"e":90,"v":0},
{"s":53,"e":5,"v":-0.120},{"s":53,"e":10,"v":-0.099},{"s":53,"e":15,"v":-0.083},{"s":53,"e":20,"v":-0.070},{"s":53,"e":25,"v":-0.059},{"s":53,"e":30,"v":-0.051},{"s":53,"e":40,"v":-0.037},{"s":53,"e":50,"v":-0.031},{"s":53,"e":60,"v":-0.024},{"s":53,"e":70,"v":-0.014},{"s":53,"e":80,"v":-0.008},{"s":53,"e":85,"v":-0.005},{"s":53,"e":90,"v":0},
{"s":54,"e":5,"v":-0.130},{"s":54,"e":10,"v":-0.107},{"s":54,"e":15,"v":-0.090},{"s":54,"e":20,"v":-0.077},{"s":54,"e":25,"v":-0.066},{"s":54,"e":30,"v":-0.057},{"s":54,"e":40,"v":-0.044},{"s":54,"e":50,"v":-0.036},{"s":54,"e":60,"v":-0.027},{"s":54,"e":70,"v":-0.017},{"s":54,"e":80,"v":-0.009},{"s":54,"e":85,"v":-0.006},{"s":54,"e":90,"v":0},
{"s":55,"e":5,"v":-0.140},{"s":55,"e":10,"v":-0.115},{"s":55,"e":15,"v":-0.098},{"s":55,"e":20,"v":-0.084},{"s":55,"e":25,"v":-0.072},{"s":55,"e":30,"v":-0.064},{"s":55,"e":40,"v":-0.049},{"s":55,"e":50,"v":-0.042},{"s":55,"e":60,"v":-0.032},{"s":55,"e":70,"v":-0.019},{"s":55,"e":80,"v":-0.011},{"s":55,"e":85,"v":-0.007},{"s":55,"e":90,"v":0},
{"s":56,"e":5,"v":-0.150},{"s":56,"e":10,"v":-0.123},{"s":56,"e":15,"v":-0.105},{"s":56,"e":20,"v":-0.090},{"s":56,"e":25,"v":-0.079},{"s":56,"e":30,"v":-0.070},{"s":56,"e":40,"v":-0.055},{"s":56,"e":50,"v":-0.047},{"s":56,"e":60,"v":-0.036},{"s":56,"e":70,"v":-0.022},{"s":56,"e":80,"v":-0.012},{"s":56,"e":85,"v":-0.008},{"s":56,"e":90,"v":0},
{"s":57,"e":5,"v":-0.160},{"s":57,"e":10,"v":-0.132},{"s":57,"e":15,"v":-0.112},{"s":57,"e":20,"v":-0.097},{"s":57,"e":25,"v":-0.086},{"s":57,"e":30,"v":-0.076},{"s":57,"e":40,"v":-0.061},{"s":57,"e":50,"v":-0.053},{"s":57,"e":60,"v":-0.040},{"s":57,"e":70,"v":-0.024},{"s":57,"e":80,"v":-0.013},{"s":57,"e":85,"v":-0.008},{"s":57,"e":90,"v":0},
{"s":58,"e":5,"v":-0.170},{"s":58,"e":10,"v":-0.140},{"s":58,"e":15,"v":-0.120},{"s":58,"e":20,"v":-0.104},{"s":58,"e":25,"v":-0.092},{"s":58,"e":30,"v":-0.083},{"s":58,"e":40,"v":-0.067},{"s":58,"e":50,"v":-0.058},{"s":58,"e":60,"v":-0.044},{"s":58,"e":70,"v":-0.027},{"s":58,"e":80,"v":-0.015},{"s":58,"e":85,"v":-0.009},{"s":58,"e":90,"v":0},
{"s":59,"e":5,"v":-0.180},{"s":59,"e":10,"v":-0.148},{"s":59,"e":15,"v":-0.127},{"s":59,"e":20,"v":-0.111},{"s":59,"e":25,"v":-0.099},{"s":59,"e":30,"v":-0.089},{"s":59,"e":40,"v":-0.073},{"s":59,"e":50,"v":-0.064},{"s":59,"e":60,"v":-0.049},{"s":59,"e":70,"v":-0.029},{"s":59,"e":80,"v":-0.016},{"s":59,"e":85,"v":-0.010},{"s":59,"e":90,"v":0},
{"s":60,"e":5,"v":-0.190},{"s":60,"e":10,"v":-0.157},{"s":60,"e":15,"v":-0.135},{"s":60,"e":20,"v":-0.118},{"s":60,"e":25,"v":-0.105},{"s":60,"e":30,"v":-0.096},{"s":60,"e":40,"v":-0.079},{"s":60,"e":50,"v":-0.069},{"s":60,"e":60,"v":-0.052},{"s":60,"e":70,"v":-0.032},{"s":60,"e":80,"v":-0.017},{"s":60,"e":85,"v":-0.011},{"s":60,"e":90,"v":0},
{"s":61,"e":5,"v":-0.200},{"s":61,"e":10,"v":-0.165},{"s":61,"e":15,"v":-0.142},{"s":61,"e":20,"v":-0.125},{"s":61,"e":25,"v":-0.112},{"s":61,"e":30,"v":-0.102},{"s":61,"e":40,"v":-0.085},{"s":61,"e":50,"v":-0.075},{"s":61,"e":60,"v":-0.057},{"s":61,"e":70,"v":-0.035},{"s":61,"e":80,"v":-0.019},{"s":61,"e":85,"v":-0.012},{"s":61,"e":90,"v":0},
{"s":81,"e":5,"v":0.095},{"s":81,"e":10,"v":0.107},{"s":81,"e":15,"v":0.117},{"s":81,"e":20,"v":0.125},{"s":81,"e":25,"v":0.131},{"s":81,"e":30,"v":0.136},{"s":81,"e":40,"v":0.142},{"s":81,"e":50,"v":0.141},{"s":81,"e":60,"v":0.116},{"s":81,"e":70,"v":0.078},{"s":81,"e":80,"v":0.047},{"s":81,"e":85,"v":0.025},{"s":81,"e":90,"v":0},
{"s":82,"e":5,"v":0.085},{"s":82,"e":10,"v":0.097},{"s":82,"e":15,"v":0.107},{"s":82,"e":20,"v":0.115},{"s":82,"e":25,"v":0.121},{"s":82,"e":30,"v":0.126},{"s":82,"e":40,"v":0.132},{"s":82,"e":50,"v":0.131},{"s":82,"e":60,"v":0.107},{"s":82,"e":70,"v":0.072},{"s":82,"e":80,"v":0.043},{"s":82,"e":85,"v":0.024},{"s":82,"e":90,"v":0},
{"s":83,"e":5,"v":0.075},{"s":83,"e":10,"v":0.087},{"s":83,"e":15,"v":0.097},{"s":83,"e":20,"v":0.105},{"s":83,"e":25,"v":0.111},{"s":83,"e":30,"v":0.116},{"s":83,"e":40,"v":0.122},{"s":83,"e":50,"v":0.121},{"s":83,"e":60,"v":0.099},{"s":83,"e":70,"v":0.067},{"s":83,"e":80,"v":0.040},{"s":83,"e":85,"v":0.022},{"s":83,"e":90,"v":0},
{"s":84,"e":5,"v":0.065},{"s":84,"e":10,"v":0.077},{"s":84,"e":15,"v":0.087},{"s":84,"e":20,"v":0.095},{"s":84,"e":25,"v":0.101},{"s":84,"e":30,"v":0.106},{"s":84,"e":40,"v":0.112},{"s":84,"e":50,"v":0.111},{"s":84,"e":60,"v":0.091},{"s":84,"e":70,"v":0.061},{"s":84,"e":80,"v":0.037},{"s":84,"e":85,"v":0.020},{"s":84,"e":90,"v":0},
{"s":85,"e":5,"v":0.055},{"s":85,"e":10,"v":0.067},{"s":85,"e":15,"v":0.077},{"s":85,"e":20,"v":0.085},{"s":85,"e":25,"v":0.091},{"s":85,"e":30,"v":0.096},{"s":85,"e":40,"v":0.102},{"s":85,"e":50,"v":0.101},{"s":85,"e":60,"v":0.083},{"s":85,"e":70,"v":0.056},{"s":85,"e":80,"v":0.033},{"s":85,"e":85,"v":0.018},{"s":85,"e":90,"v":0},
{"s":86,"e":5,"v":0.045},{"s":86,"e":10,"v":0.057},{"s":86,"e":15,"v":0.067},{"s":86,"e":20,"v":0.075},{"s":86,"e":25,"v":0.081},{"s":86,"e":30,"v":0.086},{"s":86,"e":40,"v":0.092},{"s":86,"e":50,"v":0.091},{"s":86,"e":60,"v":0.075},{"s":86,"e":70,"v":0.050},{"s":86,"e":80,"v":0.030},{"s":86,"e":85,"v":0.016},{"s":86,"e":90,"v":0},
{"s":87,"e":5,"v":0.035},{"s":87,"e":10,"v":0.047},{"s":87,"e":15,"v":0.057},{"s":87,"e":20,"v":0.065},{"s":87,"e":25,"v":0.071},{"s":87,"e":30,"v":0.076},{"s":87,"e":40,"v":0.082},{"s":87,"e":50,"v":0.081},{"s":87,"e":60,"v":0.066},{"s":87,"e":70,"v":0.045},{"s":87,"e":80,"v":0.027},{"s":87,"e":85,"v":0.015},{"s":87,"e":90,"v":0},
{"s":88,"e":5,"v":0.025},{"s":88,"e":10,"v":0.037},{"s":88,"e":15,"v":0.047},{"s":88,"e":20,"v":0.055},{"s":88,"e":25,"v":0.061},{"s":88,"e":30,"v":0.066},{"s":88,"e":40,"v":0.072},{"s":88,"e":50,"v":0.071},{"s":88,"e":60,"v":0.058},{"s":88,"e":70,"v":0.039},{"s":88,"e":80,"v":0.023},{"s":88,"e":85,"v":0.013},{"s":88,"e":90,"v":0},
{"s":89,"e":5,"v":0.015},{"s":89,"e":10,"v":0.027},{"s":89,"e":15,"v":0.037},{"s":89,"e":20,"v":0.045},{"s":89,"e":25,"v":0.051},{"s":89,"e":30,"v":0.056},{"s":89,"e":40,"v":0.062},{"s":89,"e":50,"v":0.061},{"s":89,"e":60,"v":0.050},{"s":89,"e":70,"v":0.034},{"s":89,"e":80,"v":0.020},{"s":89,"e":85,"v":0.011},{"s":89,"e":90,"v":0},
{"s":90,"e":5,"v":0.005},{"s":90,"e":10,"v":0.017},{"s":90,"e":15,"v":0.027},{"s":90,"e":20,"v":0.035},{"s":90,"e":25,"v":0.041},{"s":90,"e":30,"v":0.046},{"s":90,"e":40,"v":0.052},{"s":90,"e":50,"v":0.051},{"s":90,"e":60,"v":0.042},{"s":90,"e":70,"v":0.028},{"s":90,"e":80,"v":0.017},{"s":90,"e":85,"v":0.009},{"s":90,"e":90,"v":0},
{"s":91,"e":5,"v":-0.005},{"s":91,"e":10,"v":0.008},{"s":91,"e":15,"v":0.018},{"s":91,"e":20,"v":0.026},{"s":91,"e":25,"v":0.033},{"s":91,"e":30,"v":0.038},{"s":91,"e":40,"v":0.044},{"s":91,"e":50,"v":0.043},{"s":91,"e":60,"v":0.035},{"s":91,"e":70,"v":0.024},{"s":91,"e":80,"v":0.014},{"s":91,"e":85,"v":0.008},{"s":91,"e":90,"v":0},
{"s":92,"e":5,"v":-0.015},{"s":92,"e":10,"v":-0.001},{"s":92,"e":15,"v":0.009},{"s":92,"e":20,"v":0.019},{"s":92,"e":25,"v":0.026},{"s":92,"e":30,"v":0.031},{"s":92,"e":40,"v":0.038},{"s":92,"e":50,"v":0.038},{"s":92,"e":60,"v":0.031},{"s":92,"e":70,"v":0.021},{"s":92,"e":80,"v":0.013},{"s":92,"e":85,"v":0.007},{"s":92,"e":90,"v":0},
{"s":93,"e":5,"v":-0.025},{"s":93,"e":10,"v":-0.010},{"s":93,"e":15,"v":0.002},{"s":93,"e":20,"v":0.012},{"s":93,"e":25,"v":0.019},{"s":93,"e":30,"v":0.024},{"s":93,"e":40,"v":0.032},{"s":93,"e":50,"v":0.032},{"s":93,"e":60,"v":0.026},{"s":93,"e":70,"v":0.018},{"s":93,"e":80,"v":0.011},{"s":93,"e":85,"v":0.006},{"s":93,"e":90,"v":0},
{"s":94,"e":5,"v":-0.035},{"s":94,"e":10,"v":-0.019},{"s":94,"e":15,"v":-0.006},{"s":94,"e":20,"v":0.004},{"s":94,"e":25,"v":0.012},{"s":94,"e":30,"v":0.018},{"s":94,"e":40,"v":0.026},{"s":94,"e":50,"v":0.026},{"s":94,"e":60,"v":0.021},{"s":94,"e":70,"v":0.014},{"s":94,"e":80,"v":0.009},{"s":94,"e":85,"v":0.005},{"s":94,"e":90,"v":0},
{"s":95,"e":5,"v":-0.045},{"s":95,"e":10,"v":-0.028},{"s":95,"e":15,"v":-0.014},{"s":95,"e":20,"v":-0.003},{"s":95,"e":25,"v":0.005},{"s":95,"e":30,"v":0.011},{"s":95,"e":40,"v":0.020},{"s":95,"e":50,"v":0.021},{"s":95,"e":60,"v":0.017},{"s":95,"e":70,"v":0.012},{"s":95,"e":80,"v":0.007},{"s":95,"e":85,"v":0.004},{"s":95,"e":90,"v":0},
{"s":96,"e":5,"v":-0.055},{"s":96,"e":10,"v":-0.036},{"s":96,"e":15,"v":-0.022},{"s":96,"e":20,"v":-0.011},{"s":96,"e":25,"v":-0.003},{"s":96,"e":30,"v":0.004},{"s":96,"e":40,"v":0.014},{"s":96,"e":50,"v":0.015},{"s":96,"e":60,"v":0.012},{"s":96,"e":70,"v":0.008},{"s":96,"e":80,"v":0.005},{"s":96,"e":85,"v":0.003},{"s":96,"e":90,"v":0},
{"s":97,"e":5,"v":-0.065},{"s":97,"e":10,"v":-0.045},{"s":97,"e":15,"v":-0.030},{"s":97,"e":20,"v":-0.018},{"s":97,"e":25,"v":-0.010},{"s":97,"e":30,"v":-0.003},{"s":97,"e":40,"v":0.008},{"s":97,"e":50,"v":0.010},{"s":97,"e":60,"v":0.008},{"s":97,"e":70,"v":0.005},{"s":97,"e":80,"v":0.003},{"s":97,"e":85,"v":0.002},{"s":97,"e":90,"v":0},
{"s":98,"e":5,"v":-0.075},{"s":98,"e":10,"v":-0.054},{"s":98,"e":15,"v":-0.038},{"s":98,"e":20,"v":-0.026},{"s":98,"e":25,"v":-0.017},{"s":98,"e":30,"v":-0.009},{"s":98,"e":40,"v":0.002},{"s":98,"e":50,"v":0.004},{"s":98,"e":60,"v":0.003},{"s":98,"e":70,"v":0.002},{"s":98,"e":80,"v":0.001},{"s":98,"e":85,"v":0.001},{"s":98,"e":90,"v":0},
{"s":99,"e":5,"v":-0.085},{"s":99,"e":10,"v":-0.063},{"s":99,"e":15,"v":-0.045},{"s":99,"e":20,"v":-0.033},{"s":99,"e":25,"v":-0.024},{"s":99,"e":30,"v":-0.016},{"s":99,"e":40,"v":-0.005},{"s":99,"e":50,"v":-0.002},{"s":99,"e":60,"v":-0.002},{"s":99,"e":70,"v":-0.001},{"s":99,"e":80,"v":-0.001},{"s":99,"e":85,"v":0.000},{"s":99,"e":90,"v":0},
{"s":100,"e":5,"v":-0.095},{"s":100,"e":10,"v":-0.072},{"s":100,"e":15,"v":-0.053},{"s":100,"e":20,"v":-0.040},{"s":100,"e":25,"v":-0.031},{"s":100,"e":30,"v":-0.023},{"s":100,"e":40,"v":-0.011},{"s":100,"e":50,"v":-0.007},{"s":100,"e":60,"v":-0.005},{"s":100,"e":70,"v":-0.003},{"s":100,"e":80,"v":-0.002},{"s":100,"e":85,"v":-0.001},{"s":100,"e":90,"v":0},
{"s":101,"e":5,"v":-0.105},{"s":101,"e":10,"v":-0.080},{"s":101,"e":15,"v":-0.062},{"s":101,"e":20,"v":-0.048},{"s":101,"e":25,"v":-0.038},{"s":101,"e":30,"v":-0.029},{"s":101,"e":40,"v":-0.017},{"s":101,"e":50,"v":-0.013},{"s":101,"e":60,"v":-0.010},{"s":101,"e":70,"v":-0.006},{"s":101,"e":80,"v":-0.003},{"s":101,"e":85,"v":-0.002},{"s":101,"e":90,"v":0},
{"s":102,"e":5,"v":-0.115},{"s":102,"e":10,"v":-0.088},{"s":102,"e":15,"v":-0.068},{"s":102,"e":20,"v":-0.054},{"s":102,"e":25,"v":-0.044},{"s":102,"e":30,"v":-0.035},{"s":102,"e":40,"v":-0.023},{"s":102,"e":50,"v":-0.018},{"s":102,"e":60,"v":-0.014},{"s":102,"e":70,"v":-0.008},{"s":102,"e":80,"v":-0.005},{"s":102,"e":85,"v":-0.003},{"s":102,"e":90,"v":0},
{"s":103,"e":5,"v":-0.125},{"s":103,"e":10,"v":-0.096},{"s":103,"e":15,"v":-0.075},{"s":103,"e":20,"v":-0.061},{"s":103,"e":25,"v":-0.050},{"s":103,"e":30,"v":-0.041},{"s":103,"e":40,"v":-0.028},{"s":103,"e":50,"v":-0.023},{"s":103,"e":60,"v":-0.017},{"s":103,"e":70,"v":-0.011},{"s":103,"e":80,"v":-0.006},{"s":103,"e":85,"v":-0.004},{"s":103,"e":90,"v":0},
{"s":104,"e":5,"v":-0.135},{"s":104,"e":10,"v":-0.104},{"s":104,"e":15,"v":-0.082},{"s":104,"e":20,"v":-0.067},{"s":104,"e":25,"v":-0.056},{"s":104,"e":30,"v":-0.048},{"s":104,"e":40,"v":-0.034},{"s":104,"e":50,"v":-0.029},{"s":104,"e":60,"v":-0.022},{"s":104,"e":70,"v":-0.013},{"s":104,"e":80,"v":-0.007},{"s":104,"e":85,"v":-0.005},{"s":104,"e":90,"v":0},
{"s":105,"e":5,"v":-0.145},{"s":105,"e":10,"v":-0.112},{"s":105,"e":15,"v":-0.090},{"s":105,"e":20,"v":-0.074},{"s":105,"e":25,"v":-0.063},{"s":105,"e":30,"v":-0.054},{"s":105,"e":40,"v":-0.040},{"s":105,"e":50,"v":-0.034},{"s":105,"e":60,"v":-0.026},{"s":105,"e":70,"v":-0.016},{"s":105,"e":80,"v":-0.009},{"s":105,"e":85,"v":-0.005},{"s":105,"e":90,"v":0},
{"s":106,"e":5,"v":-0.155},{"s":106,"e":10,"v":-0.119},{"s":106,"e":15,"v":-0.097},{"s":106,"e":20,"v":-0.080},{"s":106,"e":25,"v":-0.069},{"s":106,"e":30,"v":-0.060},{"s":106,"e":40,"v":-0.046},{"s":106,"e":50,"v":-0.039},{"s":106,"e":60,"v":-0.030},{"s":106,"e":70,"v":-0.018},{"s":106,"e":80,"v":-0.010},{"s":106,"e":85,"v":-0.006},{"s":106,"e":90,"v":0},
{"s":107,"e":5,"v":-0.165},{"s":107,"e":10,"v":-0.127},{"s":107,"e":15,"v":-0.104},{"s":107,"e":20,"v":-0.087},{"s":107,"e":25,"v":-0.075},{"s":107,"e":30,"v":-0.066},{"s":107,"e":40,"v":-0.051},{"s":107,"e":50,"v":-0.045},{"s":107,"e":60,"v":-0.034},{"s":107,"e":70,"v":-0.021},{"s":107,"e":80,"v":-0.011},{"s":107,"e":85,"v":-0.007},{"s":107,"e":90,"v":0},
{"s":108,"e":5,"v":-0.175},{"s":108,"e":10,"v":-0.135},{"s":108,"e":15,"v":-0.111},{"s":108,"e":20,"v":-0.093},{"s":108,"e":25,"v":-0.081},{"s":108,"e":30,"v":-0.073},{"s":108,"e":40,"v":-0.057},{"s":108,"e":50,"v":-0.050},{"s":108,"e":60,"v":-0.038},{"s":108,"e":70,"v":-0.023},{"s":108,"e":80,"v":-0.013},{"s":108,"e":85,"v":-0.008},{"s":108,"e":90,"v":0},
{"s":109,"e":5,"v":-0.185},{"s":109,"e":10,"v":-0.143},{"s":109,"e":15,"v":-0.118},{"s":109,"e":20,"v":-0.100},{"s":109,"e":25,"v":-0.088},{"s":109,"e":30,"v":-0.079},{"s":109,"e":40,"v":-0.063},{"s":109,"e":50,"v":-0.056},{"s":109,"e":60,"v":-0.043},{"s":109,"e":70,"v":-0.026},{"s":109,"e":80,"v":-0.014},{"s":109,"e":85,"v":-0.009},{"s":109,"e":90,"v":0},
{"s":110,"e":5,"v":-0.195},{"s":110,"e":10,"v":-0.151},{"s":110,"e":15,"v":-0.124},{"s":110,"e":20,"v":-0.107},{"s":110,"e":25,"v":-0.094},{"s":110,"e":30,"v":-0.085},{"s":110,"e":40,"v":-0.069},{"s":110,"e":50,"v":-0.061},{"s":110,"e":60,"v":-0.046},{"s":110,"e":70,"v":-0.028},{"s":110,"e":80,"v":-0.015},{"s":110,"e":85,"v":-0.010},{"s":110,"e":90,"v":0},
{"s":111,"e":5,"v":-0.160},{"s":111,"e":10,"v":-0.118},{"s":111,"e":15,"v":-0.075},{"s":111,"e":20,"v":-0.032},{"s":111,"e":25,"v":0.012},{"s":111,"e":30,"v":0.055},{"s":111,"e":40,"v":0.130},{"s":111,"e":50,"v":0.165},{"s":111,"e":60,"v":0.140},{"s":111,"e":70,"v":0.093},{"s":111,"e":80,"v":0.056},{"s":111,"e":85,"v":0.031},{"s":111,"e":90,"v":0},
{"s":112,"e":5,"v":0.030},{"s":112,"e":10,"v":0.080},{"s":112,"e":15,"v":0.128},{"s":112,"e":20,"v":0.168},{"s":112,"e":25,"v":0.192},{"s":112,"e":30,"v":0.197},{"s":112,"e":40,"v":0.196},{"s":112,"e":50,"v":0.191},{"s":112,"e":60,"v":0.165},{"s":112,"e":70,"v":0.108},{"s":112,"e":80,"v":0.065},{"s":112,"e":85,"v":0.036},{"s":112,"e":90,"v":0},
{"s":113,"e":5,"v":-0.050},{"s":113,"e":10,"v":0.000},{"s":113,"e":15,"v":0.048},{"s":113,"e":20,"v":0.095},{"s":113,"e":25,"v":0.140},{"s":113,"e":30,"v":0.170},{"s":113,"e":40,"v":0.188},{"s":113,"e":50,"v":0.187},{"s":113,"e":60,"v":0.162},{"s":113,"e":70,"v":0.106},{"s":113,"e":80,"v":0.064},{"s":113,"e":85,"v":0.035},{"s":113,"e":90,"v":0},
{"s":114,"e":5,"v":0.065},{"s":114,"e":10,"v":0.098},{"s":114,"e":15,"v":0.128},{"s":114,"e":20,"v":0.150},{"s":114,"e":25,"v":0.165},{"s":114,"e":30,"v":0.175},{"s":114,"e":40,"v":0.182},{"s":114,"e":50,"v":0.180},{"s":114,"e":60,"v":0.156},{"s":114,"e":70,"v":0.103},{"s":114,"e":80,"v":0.062},{"s":114,"e":85,"v":0.034},{"s":114,"e":90,"v":0},
{"s":115,"e":5,"v":-0.085},{"s":115,"e":10,"v":-0.040},{"s":115,"e":15,"v":0.010},{"s":115,"e":20,"v":0.058},{"s":115,"e":25,"v":0.105},{"s":115,"e":30,"v":0.145},{"s":115,"e":40,"v":0.180},{"s":115,"e":50,"v":0.183},{"s":115,"e":60,"v":0.158},{"s":115,"e":70,"v":0.104},{"s":115,"e":80,"v":0.062},{"s":115,"e":85,"v":0.034},{"s":115,"e":90,"v":0},
{"s":116,"e":5,"v":-0.005},{"s":116,"e":10,"v":0.040},{"s":116,"e":15,"v":0.085},{"s":116,"e":20,"v":0.125},{"s":116,"e":25,"v":0.160},{"s":116,"e":30,"v":0.180},{"s":116,"e":40,"v":0.188},{"s":116,"e":50,"v":0.186},{"s":116,"e":60,"v":0.160},{"s":116,"e":70,"v":0.105},{"s":116,"e":80,"v":0.063},{"s":116,"e":85,"v":0.035},{"s":116,"e":90,"v":0},
{"s":117,"e":5,"v":-0.205},{"s":117,"e":10,"v":-0.174},{"s":117,"e":15,"v":-0.152},{"s":117,"e":20,"v":-0.136},{"s":117,"e":25,"v":-0.122},{"s":117,"e":30,"v":-0.110},{"s":117,"e":40,"v":-0.092},{"s":117,"e":50,"v":-0.078},{"s":117,"e":60,"v":-0.059},{"s":117,"e":70,"v":-0.036},{"s":117,"e":80,"v":-0.020},{"s":117,"e":85,"v":-0.013},{"s":117,"e":90,"v":0},
{"s":118,"e":5,"v":0.177},{"s":118,"e":10,"v":0.179},{"s":118,"e":15,"v":0.181},{"s":118,"e":20,"v":0.183},{"s":118,"e":25,"v":0.185},{"s":118,"e":30,"v":0.186},{"s":118,"e":40,"v":0.186},{"s":118,"e":50,"v":0.183},{"s":118,"e":60,"v":0.151},{"s":118,"e":70,"v":0.101},{"s":118,"e":80,"v":0.060},{"s":118,"e":85,"v":0.033},{"s":118,"e":90,"v":0},
{"s":119,"e":5,"v":0.152},{"s":119,"e":10,"v":0.155},{"s":119,"e":15,"v":0.158},{"s":119,"e":20,"v":0.161},{"s":119,"e":25,"v":0.164},{"s":119,"e":30,"v":0.167},{"s":119,"e":40,"v":0.170},{"s":119,"e":50,"v":0.169},{"s":119,"e":60,"v":0.139},{"s":119,"e":70,"v":0.093},{"s":119,"e":80,"v":0.056},{"s":119,"e":85,"v":0.031},{"s":119,"e":90,"v":0},
{"s":120,"e":5,"v":0.128},{"s":120,"e":10,"v":0.132},{"s":120,"e":15,"v":0.136},{"s":120,"e":20,"v":0.140},{"s":120,"e":25,"v":0.144},{"s":120,"e":30,"v":0.148},{"s":120,"e":40,"v":0.152},{"s":120,"e":50,"v":0.152},{"s":120,"e":60,"v":0.125},{"s":120,"e":70,"v":0.084},{"s":120,"e":80,"v":0.050},{"s":120,"e":85,"v":0.027},{"s":120,"e":90,"v":0},
{"s":121,"e":5,"v":0.105},{"s":121,"e":10,"v":0.109},{"s":121,"e":15,"v":0.114},{"s":121,"e":20,"v":0.118},{"s":121,"e":25,"v":0.123},{"s":121,"e":30,"v":0.127},{"s":121,"e":40,"v":0.132},{"s":121,"e":50,"v":0.134},{"s":121,"e":60,"v":0.110},{"s":121,"e":70,"v":0.074},{"s":121,"e":80,"v":0.044},{"s":121,"e":85,"v":0.024},{"s":121,"e":90,"v":0}
]
},
"layer": [
  {"data": {"name": "thin"},
   "mark": {"type": "line", "interpolate": "monotone", "strokeWidth": 1.1, "color": "#18205a"},
   "encoding": {
     "x": {"field": "e", "type": "quantitative", "scale": {"domain": [0, 90], "nice": false},
           "axis": {"values": [0, 15, 30, 45, 60, 75, 90], "title": "Elevation [deg]", "grid": true, "labelPadding": 17, "titlePadding": 4}},
     "y": {"field": "v", "type": "quantitative", "scale": {"domain": [-0.5, 0.5], "nice": false},
           "axis": {"values": [-0.4, -0.2, 0, 0.2, 0.4], "format": ".1f", "labelExpr": "replace(datum.label, '\u2212', '-')", "title": "Widelane [cy]", "grid": true, "labelPadding": 16, "titlePadding": 22}},
     "detail": {"field": "s", "type": "nominal"}
   }},
  {"data": {"name": "bulk"},
   "mark": {"type": "line", "interpolate": "monotone", "strokeWidth": 2.1, "color": "#18205a"},
   "encoding": {
     "x": {"field": "e", "type": "quantitative"},
     "y": {"field": "v", "type": "quantitative"},
     "detail": {"field": "s", "type": "nominal"}
   }},
  {"data": {"name": "lead"},
   "mark": {"type": "rule", "color": "#000", "strokeWidth": 1},
   "encoding": {
     "x": {"field": "e", "type": "quantitative"},
     "y": {"field": "v", "type": "quantitative"},
     "x2": {"field": "e2"},
     "y2": {"field": "v2"}
   }},
  {"data": {"name": "ann"},
   "mark": {"type": "text", "align": "left", "baseline": "middle", "fontSize": 16.5, "font": "Liberation Sans", "color": "#000"},
   "encoding": {
     "x": {"field": "e", "type": "quantitative"},
     "y": {"field": "v", "type": "quantitative"},
     "text": {"field": "t", "type": "nominal"}
   }}
]
}
